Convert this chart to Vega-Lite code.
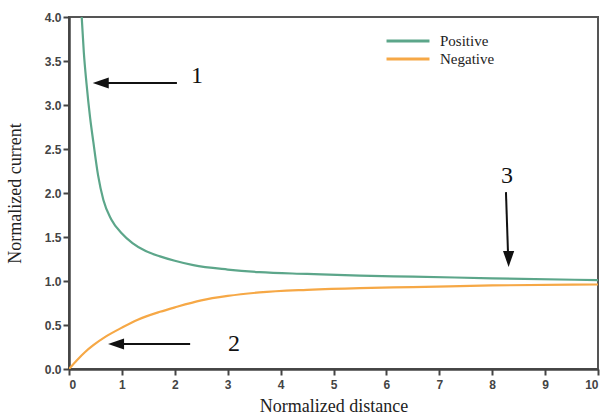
{
  "$schema": "https://vega.github.io/schema/vega-lite/v6.json",
  "width": 529,
  "height": 352,
  "autosize": {"type": "none"},
  "padding": {"left": 69, "top": 17, "right": 12, "bottom": 47},
  "background": "white",
  "config": {
    "view": {"stroke": "#555", "strokeWidth": 2},
    "axis": {
      "domainColor": "#444", "domainWidth": 2.5,
      "tickColor": "#444", "tickWidth": 2, "tickSize": 6,
      "labelFont": "Liberation Sans", "labelFontWeight": "bold", "labelFontSize": 12, "labelColor": "#444",
      "grid": false
    }
  },
  "datasets": {
    "curves": [
      {"L": 0.24, "I": 4.0, "series": "Positive"},
      {"L": 0.28, "I": 3.6, "series": "Positive"},
      {"L": 0.33, "I": 3.25, "series": "Positive"},
      {"L": 0.4, "I": 2.85, "series": "Positive"},
      {"L": 0.46, "I": 2.58, "series": "Positive"},
      {"L": 0.55, "I": 2.2, "series": "Positive"},
      {"L": 0.65, "I": 1.92, "series": "Positive"},
      {"L": 0.8, "I": 1.7, "series": "Positive"},
      {"L": 1.0, "I": 1.54, "series": "Positive"},
      {"L": 1.2, "I": 1.43, "series": "Positive"},
      {"L": 1.45, "I": 1.34, "series": "Positive"},
      {"L": 1.72, "I": 1.28, "series": "Positive"},
      {"L": 2.0, "I": 1.23, "series": "Positive"},
      {"L": 2.35, "I": 1.18, "series": "Positive"},
      {"L": 3.0, "I": 1.13, "series": "Positive"},
      {"L": 3.6, "I": 1.1, "series": "Positive"},
      {"L": 4.5, "I": 1.08, "series": "Positive"},
      {"L": 5.5, "I": 1.06, "series": "Positive"},
      {"L": 6.5, "I": 1.05, "series": "Positive"},
      {"L": 8.0, "I": 1.03, "series": "Positive"},
      {"L": 10.0, "I": 1.01, "series": "Positive"},
      {"L": 0.0, "I": 0.0, "series": "Negative"},
      {"L": 0.15, "I": 0.1, "series": "Negative"},
      {"L": 0.3, "I": 0.19, "series": "Negative"},
      {"L": 0.46, "I": 0.27, "series": "Negative"},
      {"L": 0.7, "I": 0.37, "series": "Negative"},
      {"L": 1.0, "I": 0.47, "series": "Negative"},
      {"L": 1.3, "I": 0.56, "series": "Negative"},
      {"L": 1.72, "I": 0.65, "series": "Negative"},
      {"L": 2.0, "I": 0.7, "series": "Negative"},
      {"L": 2.5, "I": 0.78, "series": "Negative"},
      {"L": 3.0, "I": 0.83, "series": "Negative"},
      {"L": 3.6, "I": 0.87, "series": "Negative"},
      {"L": 4.5, "I": 0.9, "series": "Negative"},
      {"L": 5.5, "I": 0.92, "series": "Negative"},
      {"L": 6.5, "I": 0.93, "series": "Negative"},
      {"L": 8.0, "I": 0.95, "series": "Negative"},
      {"L": 10.0, "I": 0.96, "series": "Negative"}
    ],
    "arrows": [
      {"x": 0.55, "y": 3.25, "x2": 2.04, "y2": 3.25},
      {"x": 0.85, "y": 0.284, "x2": 2.29, "y2": 0.284},
      {"x": 8.26, "y": 2.01, "x2": 8.3, "y2": 1.3}
    ],
    "heads": [
      {"x": 0.6, "y": 3.25, "dir": "left"},
      {"x": 0.89, "y": 0.284, "dir": "left"},
      {"x": 8.31, "y": 1.25, "dir": "down"}
    ],
    "labels": [
      {"x": 2.42, "y": 3.33, "text": "1"},
      {"x": 3.12, "y": 0.284, "text": "2"},
      {"x": 8.28, "y": 2.19, "text": "3"}
    ]
  },
  "layer": [
    {
      "data": {"name": "curves"},
      "mark": {"type": "line", "strokeWidth": 2.2, "interpolate": "monotone", "clip": true},
      "encoding": {
        "x": {"field": "L", "type": "quantitative",
              "scale": {"domain": [0, 10], "nice": false},
              "axis": {"values": [0,1,2,3,4,5,6,7,8,9,10], "title": "Normalized distance", "titlePadding": 7, "labelPadding": 4,
                       "titleFont": "Liberation Serif", "titleFontWeight": "normal", "titleFontSize": 18, "titleColor": "#222"}},
        "y": {"field": "I", "type": "quantitative",
              "scale": {"domain": [0, 4], "nice": false},
              "axis": {"values": [0,0.5,1,1.5,2,2.5,3,3.5,4], "format": ".1f", "title": "Normalized current", "titlePadding": 20, "labelPadding": 2,
                       "titleFont": "Liberation Serif", "titleFontWeight": "normal", "titleFontSize": 18, "titleColor": "#222"}},
        "color": {"field": "series", "type": "nominal",
                  "scale": {"domain": ["Positive", "Negative"], "range": ["#5ca68a", "#f6a846"]},
                  "legend": {"title": null, "orient": "none", "legendX": 330, "legendY": 15,
                             "symbolType": "M-3,0H3", "symbolSize": 205, "symbolStrokeWidth": 3,
                             "symbolFillColor": "transparent",
                             "labelFont": "Liberation Serif", "labelFontSize": 15, "labelColor": "#222",
                             "rowPadding": 1, "labelOffset": 23}},
        "detail": {"field": "series"}
      }
    },
    {
      "data": {"name": "arrows"},
      "mark": {"type": "rule", "color": "#111", "strokeWidth": 2},
      "encoding": {
        "x": {"field": "x", "type": "quantitative"},
        "y": {"field": "y", "type": "quantitative"},
        "x2": {"field": "x2"},
        "y2": {"field": "y2"}
      }
    },
    {
      "data": {"name": "heads"},
      "mark": {"type": "point", "filled": true, "color": "#111", "opacity": 1, "size": 256},
      "encoding": {
        "x": {"field": "x", "type": "quantitative"},
        "y": {"field": "y", "type": "quantitative"},
        "shape": {"field": "dir", "type": "nominal",
                  "scale": {"domain": ["left", "down"], "range": ["M-1,0L1,-0.7L1,0.7Z", "M0,1L-0.7,-1L0.7,-1Z"]},
                  "legend": null}
      }
    },
    {
      "data": {"name": "labels"},
      "mark": {"type": "text", "font": "Liberation Serif", "fontSize": 24, "color": "#111", "align": "center", "baseline": "middle"},
      "encoding": {
        "x": {"field": "x", "type": "quantitative"},
        "y": {"field": "y", "type": "quantitative"},
        "text": {"field": "text"}
      }
    }
  ]
}
